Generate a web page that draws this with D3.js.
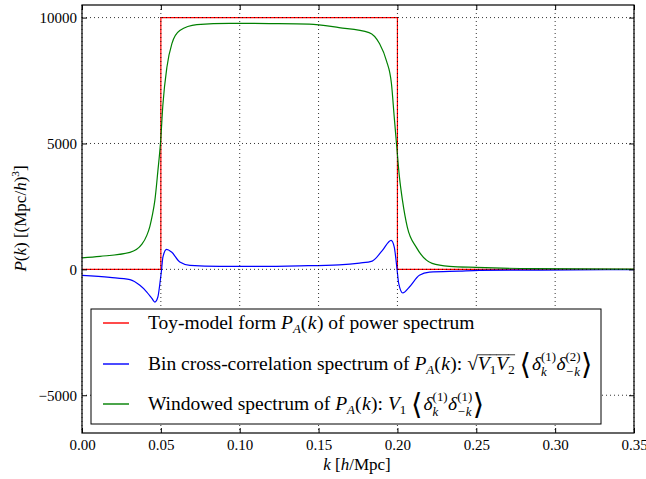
<!DOCTYPE html>
<html>
<head>
<meta charset="utf-8">
<script src="https://cdn.jsdelivr.net/npm/d3@7"></script>
<style>
  body { margin: 0; background: #fff; }
  svg text { font-family: "Liberation Serif", "DejaVu Serif", serif; fill: #000; white-space: pre; }
</style>
</head>
<body>
<div class="chart"></div>
<script>
// data
var xTicks = [0, 0.05, 0.10, 0.15, 0.20, 0.25, 0.30, 0.35];
var yTicks = [-5000, 0, 5000, 10000];

// toy model step
var toyK = [0, 0.05, 0.05, 0.20, 0.20, 0.35];
var toyP = [0, 0, 10000, 10000, 0, 0];

// bin cross-correlation spectrum
var crossK = [0, 0.0177, 0.0304, 0.0367, 0.0411, 0.0443, 0.0462, 0.0481, 0.0494, 0.0504, 0.0513,
  0.0536, 0.0568, 0.062, 0.0684, 0.0873, 0.1127, 0.138, 0.163, 0.176, 0.184, 0.1905, 0.196, 0.198,
  0.1996, 0.2008, 0.2034, 0.2076, 0.2139, 0.2203, 0.2392, 0.2519, 0.29, 0.35];
var crossP = [-238, -317, -409, -635, -901, -1151, -1298, -1099, -556, -40, 488,
  794, 686, 290, 159, 119, 119, 139, 179, 250, 329, 754, 1151, 885,
  91, -556, -940, -702, -238, -107, -67, -40, -28, -12];

// windowed spectrum
var windK = [0, 0.0114, 0.0304, 0.038, 0.0411, 0.043, 0.0446, 0.0462, 0.0481, 0.0498, 0.0513, 0.0538,
  0.057, 0.062, 0.0728, 0.0937, 0.119, 0.144, 0.163, 0.182, 0.1886, 0.193, 0.1962, 0.198,
  0.1994, 0.2013, 0.2032, 0.2063, 0.212, 0.222, 0.233, 0.25, 0.285, 0.35];
var windP = [456, 516, 675, 1000, 1350, 1700, 2150, 2738, 3900, 5050, 6550, 8016,
  8968, 9484, 9722, 9773, 9762, 9742, 9603, 9405, 8968, 8294, 7381, 6032,
  5000, 3651, 2738, 1667, 873, 238, 119, 79, 28, 12];

var W = 646, H = 479;
var pLeft = 82, pRight = 634, pTop = 5, pBottom = 433;

var svg = d3.select(".chart").append("svg")
    .attr("width", W)
    .attr("height", H);

var x = d3.scaleLinear().domain([0, 0.35]).range([pLeft, pRight]);
var y = d3.scaleLinear().domain([-6500, 10500]).range([pBottom, pTop]);

function zipped(ks, ps) { return ks.map((k, i) => [k, ps[i]]); }

var line = d3.line()
    .x(d => x(d[0]))
    .y(d => y(d[1]));
var smooth = d3.line()
    .x(d => x(d[0]))
    .y(d => y(d[1]))
    .curve(d3.curveMonotoneX);

var plot = svg.append("g");

plot.append("path")
    .attr("d", line(zipped(toyK, toyP)))
    .attr("stroke", "#ff0000")
    .attr("stroke-width", 1.2)
    .attr("fill", "none");

plot.append("path")
    .attr("d", smooth(zipped(crossK, crossP)))
    .attr("stroke", "#0000ff")
    .attr("stroke-width", 1.2)
    .attr("fill", "none");

plot.append("path")
    .attr("d", smooth(zipped(windK, windP)))
    .attr("stroke", "#008000")
    .attr("stroke-width", 1.2)
    .attr("fill", "none");

// grid on top of lines (classic style)
var grid = svg.append("g")
    .attr("stroke", "#000")
    .attr("stroke-width", 0.8)
    .attr("stroke-dasharray", "1,3");
grid.selectAll(".gx").data(xTicks).enter().append("line")
    .attr("x1", d => x(d)).attr("x2", d => x(d))
    .attr("y1", pTop).attr("y2", pBottom);
grid.selectAll(".gy").data(yTicks).enter().append("line")
    .attr("x1", pLeft).attr("x2", pRight)
    .attr("y1", d => y(d)).attr("y2", d => y(d));

// axes, ticks pointing in
var fmtY = d => d < 0 ? "\u2212" + Math.abs(d) : "" + d;

var axB = svg.append("g")
    .attr("transform", `translate(0,${pBottom})`)
    .call(d3.axisBottom(x).tickValues(xTicks).tickFormat(d3.format(".2f")).tickSize(-5).tickPadding(6));
svg.append("g")
    .attr("transform", `translate(0,${pTop})`)
    .call(d3.axisTop(x).tickValues(xTicks).tickFormat("").tickSize(-5));
var axL = svg.append("g")
    .attr("transform", `translate(${pLeft},0)`)
    .call(d3.axisLeft(y).tickValues(yTicks).tickFormat(fmtY).tickSize(-5).tickPadding(5));
svg.append("g")
    .attr("transform", `translate(${pRight},0)`)
    .call(d3.axisRight(y).tickValues(yTicks).tickFormat("").tickSize(-5));

svg.selectAll(".domain").remove();
[axB, axL].forEach(a => a.attr("font-family", '"Liberation Serif", serif').attr("font-size", 15));
svg.selectAll(".tick line").attr("stroke-width", 1);

svg.append("rect")
    .attr("x", pLeft).attr("y", pTop)
    .attr("width", pRight - pLeft).attr("height", pBottom - pTop)
    .attr("fill", "none")
    .attr("stroke", "#000")
    .attr("stroke-width", 1.2);

// inline math helper
function typeset(g, x0, y0, parts, base) {
  var cx = x0;
  parts.forEach(p => {
    if (p.stack) {
      var sz = base * 0.66;
      var a = g.append("text").attr("x", cx).attr("y", y0 - base * 0.45)
        .style("font-size", sz + "px").text(p.sup);
      var b = g.append("text").attr("x", cx).attr("y", y0 + base * 0.3)
        .style("font-size", sz + "px").style("font-style", "italic").text(p.sub);
      cx += Math.max(a.node().getComputedTextLength(), b.node().getComputedTextLength()) + 0.5;
    } else {
      var sz2 = (p.scale || 1) * base;
      var t = g.append("text").attr("x", cx).attr("y", y0 + (p.dy || 0) * base)
        .style("font-size", sz2 + "px")
        .style("font-style", p.it ? "italic" : "normal")
        .text(p.t);
      var w = t.node().getComputedTextLength();
      if (p.over) {
        g.append("line").attr("x1", cx).attr("x2", cx + w + 0.5)
          .attr("y1", y0 - base * 0.78).attr("y2", y0 - base * 0.78)
          .attr("stroke", "#000").attr("stroke-width", 0.8);
      }
      cx += w + (p.pad || 0);
    }
  });
  return cx;
}

// legend
var legend = svg.append("g");
legend.append("rect")
    .attr("x", 91).attr("y", 309)
    .attr("width", 510).attr("height", 115)
    .attr("fill", "#fff")
    .attr("stroke", "#000")
    .attr("stroke-width", 1);

var legColors = ["#ff0000", "#0000ff", "#008000"];
var legY = [323, 364, 404];
legColors.forEach((c, i) => {
  legend.append("line")
    .attr("x1", 103).attr("x2", 129)
    .attr("y1", legY[i]).attr("y2", legY[i])
    .attr("stroke", c).attr("stroke-width", 2).attr("opacity", 0.7);
});

var fs = 19.5;
var sp = "\u00a0";
var pa = [{t: "P", it: true}, {t: "A", it: true, scale: 0.66, dy: 0.2}, {t: "(", pad: 0.5}, {t: "k", it: true, pad: 0.5}, {t: ")"}];
var bracketed = (s1, s2) => [
  {t: "\u27e8", scale: 1.5, dy: 0.22, pad: 1},
  {t: "\u03b4", it: true}, {stack: true, sup: s1, sub: "k"},
  {t: "\u03b4", it: true}, {stack: true, sup: s2, sub: "\u2212k"},
  {t: "\u27e9", scale: 1.5, dy: 0.22}
];

typeset(legend, 148, legY[0] + 6,
  [{t: "Toy-model form" + sp}].concat(pa, [{t: sp + "of power spectrum"}]), fs);

typeset(legend, 148, legY[1] + 6,
  [{t: "Bin cross-correlation spectrum of" + sp}].concat(pa, [{t: ":" + sp},
   {t: "\u221a"}, {t: "V", it: true, over: true}, {t: "1", scale: 0.66, dy: 0.2, over: true},
   {t: "V", it: true, over: true}, {t: "2", scale: 0.66, dy: 0.2, over: true}, {t: sp}],
   bracketed("(1)", "(2)")), fs);

typeset(legend, 148, legY[2] + 6,
  [{t: "Windowed spectrum of" + sp}].concat(pa, [{t: ":" + sp},
   {t: "V", it: true}, {t: "1", scale: 0.66, dy: 0.2}, {t: sp}],
   bracketed("(1)", "(1)")), fs);

// axis labels
var xl = svg.append("g");
typeset(xl, 0, 470, [{t: "k", it: true}, {t: sp + "["}, {t: "h", it: true}, {t: "/Mpc]"}], 17);
var xb = xl.node().getBBox();
xl.attr("transform", `translate(${357 - xb.width / 2},0)`);

var yl = svg.append("g");
typeset(yl, 0, 0, [{t: "P", it: true}, {t: "("}, {t: "k", it: true}, {t: ")" + sp + "[(Mpc/"},
  {t: "h", it: true}, {t: ")"}, {t: "3", scale: 0.66, dy: -0.4}, {t: "]"}], 17);
var yb = yl.node().getBBox();
yl.attr("transform", `translate(26,${218 + yb.width / 2}) rotate(-90)`);
</script>
</body>
</html>
